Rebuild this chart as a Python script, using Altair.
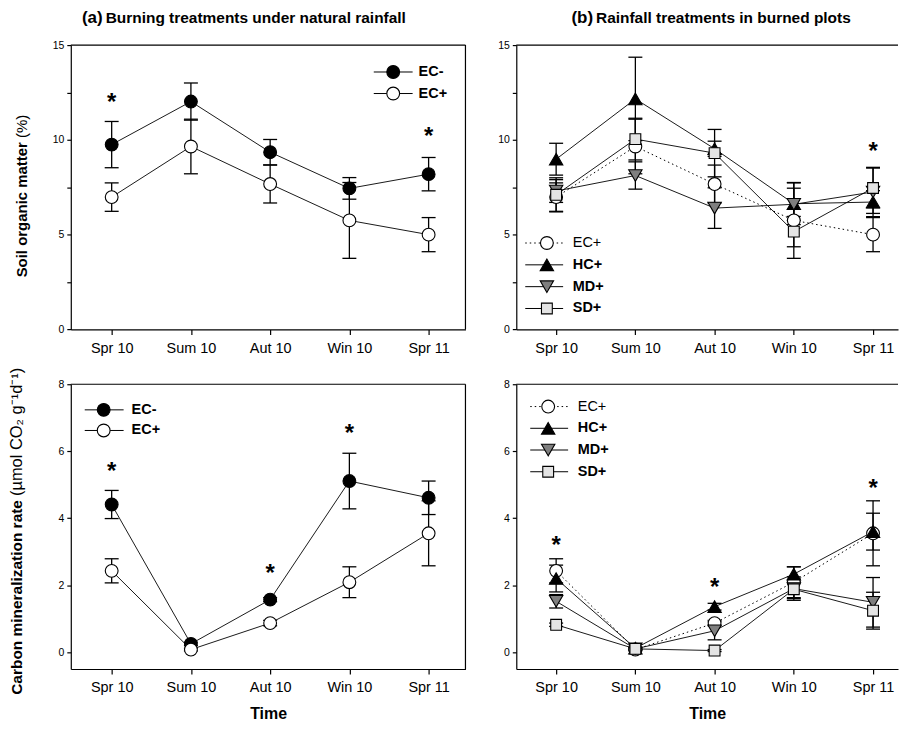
import json
import altair as alt
import pandas as pd

# ---------------- data ----------------
seasons = ["Spr 10", "Sum 10", "Aut 10", "Win 10", "Spr 11"]

# Soil organic matter (%)
som_ECm = [9.75, 12.02, 9.35, 7.44, 8.19]
som_ECm_se = [1.22, 0.98, 0.67, 0.57, 0.88]
som_ECp = [6.98, 9.65, 7.67, 5.75, 5.00]
som_ECp_se = [0.75, 1.44, 1.00, 2.00, 0.90]
som_HCp = [8.98, 12.16, 9.53, 6.63, 6.72]
som_HCp_se = [0.84, 2.20, 0.40, 1.10, 0.60]
som_MDp = [7.30, 8.12, 6.40, 6.60, 7.25]
som_MDp_se = [0.60, 0.72, 1.07, 0.85, 1.30]
som_SDp = [7.10, 10.04, 9.30, 5.16, 7.46]
som_SDp_se = [0.90, 1.10, 1.25, 0.80, 1.05]

# Carbon mineralization rate
cm_ECm = [4.41, 0.25, 1.57, 5.11, 4.61]
cm_ECm_se = [0.42, 0.05, 0.06, 0.83, 0.50]
cm_ECp = [2.43, 0.08, 0.87, 2.09, 3.55]
cm_ECp_se = [0.36, 0.04, 0.08, 0.46, 0.97]
cm_HCp = [2.20, 0.12, 1.36, 2.33, 3.60]
cm_HCp_se = [0.40, 0.04, 0.10, 0.22, 0.55]
cm_MDp = [1.52, 0.10, 0.64, 1.90, 1.49]
cm_MDp_se = [0.20, 0.03, 0.27, 0.35, 0.74]
cm_SDp = [0.82, 0.10, 0.05, 1.88, 1.24]
cm_SDp_se = [0.05, 0.03, 0.03, 0.28, 0.55]

# significance asterisks (time index, height)
stars_a_som_t = [0, 4]
stars_a_som_y = [12.28, 10.44]
stars_b_som_t = [4]
stars_b_som_y = [9.65]
stars_a_cm_t = [0, 2, 3]
stars_a_cm_y = [5.55, 2.52, 6.69]
stars_b_cm_t = [0, 2, 4]
stars_b_cm_y = [3.34, 2.11, 5.05]

# ---------------- styles ----------------
FONT = "Liberation Sans"
STYLE = {
    "EC-": dict(shape="circle", fill="black", size=165),
    "EC+": dict(shape="circle", fill="white", size=165),
    "HC+": dict(shape="triangle-up", fill="black", size=180),
    "MD+": dict(shape="triangle-down", fill="#7f7f7f", size=180),
    "SD+": dict(shape="square", fill="#e4e4e4", size=118),
}
DOT = [1.5, 3]
X_LABEL_EXPR = json.dumps(seasons) + "[datum.value]"


def one():
    return alt.Chart(pd.DataFrame({"k": [0]}))


def make_panel(names, means, ses, dashed, ydom, yvals, ylabexpr, width, height,
               xdom, xtitle, stars_t, stars_y, legend, title, ytitle, right_border):
    rows = []
    for i, (s, m, e) in enumerate(zip(names, means, ses)):
        for t in range(len(seasons)):
            rows.append(dict(series=s, order=i, t=t, mean=m[t],
                             lo=m[t] - e[t], hi=m[t] + e[t]))
    df = pd.DataFrame(rows)
    base = alt.Chart(df)

    xscale = alt.Scale(domain=xdom, nice=False, zero=False)
    yscale = alt.Scale(domain=ydom, nice=False, zero=False)
    xaxis = alt.Axis(values=[0, 1, 2, 3, 4], labelExpr=X_LABEL_EXPR,
                     title=xtitle if xtitle else None, tickSize=5,
                     labelFontSize=14.5, labelPadding=7, titleFontSize=16,
                     titleFontWeight="bold", titlePadding=11, grid=False)
    yaxis = alt.Axis(values=yvals, labelExpr=ylabexpr, title=None, tickSize=4,
                     labelFontSize=10.5, labelPadding=3, grid=False)

    def X(f="t"):
        return alt.X(f + ":Q", scale=xscale, axis=xaxis)

    def Y(f):
        return alt.Y(f + ":Q", scale=yscale, axis=yaxis)

    layers = []
    for s in names:
        sub = base.transform_filter(alt.datum.series == s)
        if s in dashed:
            ln = sub.mark_line(color="black", strokeWidth=1, strokeDash=DOT)
        else:
            ln = sub.mark_line(color="black", strokeWidth=0.9)
        layers.append(ln.encode(x=X(), y=Y("mean")))
    layers.append(base.mark_rule(color="black", strokeWidth=1.3).encode(
        x=X(), y=Y("lo"), y2="hi:Q"))
    for f in ["lo", "hi"]:
        layers.append(base.mark_tick(orient="horizontal", size=14, thickness=1.3,
                                     color="black", opacity=1).encode(x=X(), y=Y(f)))
    for s in names:
        st = STYLE[s]
        layers.append(base.transform_filter(alt.datum.series == s).mark_point(
            shape=st["shape"], size=st["size"], fill=st["fill"], stroke="black",
            strokeWidth=1.1, opacity=1, fillOpacity=1, filled=True).encode(x=X(), y=Y("mean")))

    sdf = pd.DataFrame({"t": stars_t, "y": stars_y})
    layers.append(alt.Chart(sdf).mark_text(text="*", fontSize=24, fontWeight="bold",
                                           baseline="alphabetic", dy=13, color="black",
                                           font=FONT).encode(x=X(), y=Y("y")))

    # frame
    layers.append(one().mark_rule(color="black", strokeWidth=1.2).encode(
        x=alt.value(0), x2=alt.value(width), y=alt.value(0)))
    if right_border:
        layers.append(one().mark_rule(color="black", strokeWidth=1.2).encode(
            x=alt.value(width), y=alt.value(0), y2=alt.value(height)))

    # legend
    lx1, lx2, mx, tx, ly0, dly = legend["geom"]
    for i, s in enumerate(names):
        yy = ly0 + i * dly
        st = STYLE[s]
        if s in dashed:
            lr = one().mark_rule(color="black", strokeWidth=1, strokeDash=DOT)
        else:
            lr = one().mark_rule(color="black", strokeWidth=1)
        layers.append(lr.encode(x=alt.value(lx1), x2=alt.value(lx2), y=alt.value(yy)))
        layers.append(one().mark_point(shape=st["shape"], size=st["size"], fill=st["fill"],
                                       stroke="black", strokeWidth=1.1, opacity=1,
                                       filled=True).encode(x=alt.value(mx), y=alt.value(yy)))
        wt = "normal" if s in legend.get("normal", []) else "bold"
        layers.append(one().mark_text(text=s, fontSize=14.5, fontWeight=wt, align="left",
                                      baseline="middle", font=FONT, color="black").encode(
            x=alt.value(tx), y=alt.value(yy)))

    # panel title (two parts)
    if title:
        t1, t2, jx = title
        layers.append(one().mark_text(text=t1, fontSize=17, fontWeight="bold", align="right",
                                      baseline="alphabetic", font=FONT, color="black").encode(
            x=alt.value(jx - 1.5), y=alt.value(-22)))
        layers.append(one().mark_text(text=t2, fontSize=15.5, fontWeight="bold", align="left",
                                      baseline="alphabetic", font=FONT, color="black").encode(
            x=alt.value(jx + 1.5), y=alt.value(-22)))

    # y axis title (bold part + normal part), rotated
    if ytitle:
        p1, p2, tx_, jy, fs, fs2 = ytitle
        layers.append(one().mark_text(text=p1, fontSize=fs, fontWeight="bold", align="right",
                                      baseline="middle", angle=270, font=FONT,
                                      color="black").encode(
            x=alt.value(tx_), y=alt.value(jy + 2)))
        layers.append(one().mark_text(text=p2, fontSize=fs2, fontWeight="normal", align="left",
                                      baseline="middle", angle=270, font=FONT,
                                      color="black").encode(
            x=alt.value(tx_), y=alt.value(jy - 2)))

    return alt.layer(*layers).properties(width=width, height=height)


WL, WR = 396, 383
HT, HB = 285.3, 285.7
XDOM_L = [-0.516, 4.465]
XDOM_R = [-0.503, 4.315]

som_vals = [0, 2.5, 5, 7.5, 10, 12.5, 15]
som_lab = "datum.value % 5 == 0 ? datum.label : ''"
cm_vals = [0, 2, 4, 6, 8]
cm_lab = "datum.label"

A = make_panel(["EC-", "EC+"], [som_ECm, som_ECp], [som_ECm_se, som_ECp_se], [],
               [0, 15], som_vals, som_lab, WL, HT, XDOM_L, None,
               stars_a_som_t, stars_a_som_y,
               {"geom": (304, 343, 323.5, 349, 27, 21.6)},
               ("(a)", "Burning treatments under natural rainfall", 33.5),
               ("Soil organic matter", "(%)", -49, 95.3, 15, 15), True)

B = make_panel(["EC+", "HC+", "MD+", "SD+"], [som_ECp, som_HCp, som_MDp, som_SDp],
               [som_ECp_se, som_HCp_se, som_MDp_se, som_SDp_se], ["EC+"],
               [0, 15], som_vals, som_lab, WR, HT, XDOM_R, None,
               stars_b_som_t, stars_b_som_y,
               {"geom": (9, 47, 30.7, 56.7, 198.6, 21.9), "normal": ["EC+"]},
               ("(b)", "Rainfall treatments in burned plots", 78.5),
               None, False)

C = make_panel(["EC-", "EC+"], [cm_ECm, cm_ECp], [cm_ECm_se, cm_ECp_se], [],
               [-0.5, 8], cm_vals, cm_lab, WL, HB, XDOM_L, "Time",
               stars_a_cm_t, stars_a_cm_y,
               {"geom": (14, 53, 33, 61, 25.7, 20.7)},
               None,
               ("Carbon mineralization rate", "(µmol CO₂ g⁻¹d⁻¹)", -54, 114.2, 15.5, 16.5), True)

D = make_panel(["EC+", "HC+", "MD+", "SD+"], [cm_ECp, cm_HCp, cm_MDp, cm_SDp],
               [cm_ECp_se, cm_HCp_se, cm_MDp_se, cm_SDp_se], ["EC+"],
               [-0.5, 8], cm_vals, cm_lab, WR, HB, XDOM_R, "Time",
               stars_b_cm_t, stars_b_cm_y,
               {"geom": (14, 52, 32, 61.7, 22.4, 21.8), "normal": ["EC+"]},
               None, None, False)

chart = alt.concat(A, B, C, D, columns=2, spacing={"row": 54.3, "column": 51},
                   align="each", bounds="flush").properties(
    padding={"left": 0, "top": 0, "right": 0, "bottom": 0}
).configure_view(stroke=None).configure_axis(
    labelFont=FONT, titleFont=FONT, labelColor="black", titleColor="black",
    domainColor="black", tickColor="black", domainWidth=1.2, tickWidth=1.2
).configure_text(font=FONT)

chart.save("out.html", embed_options={"renderer": "svg", "actions": False})
